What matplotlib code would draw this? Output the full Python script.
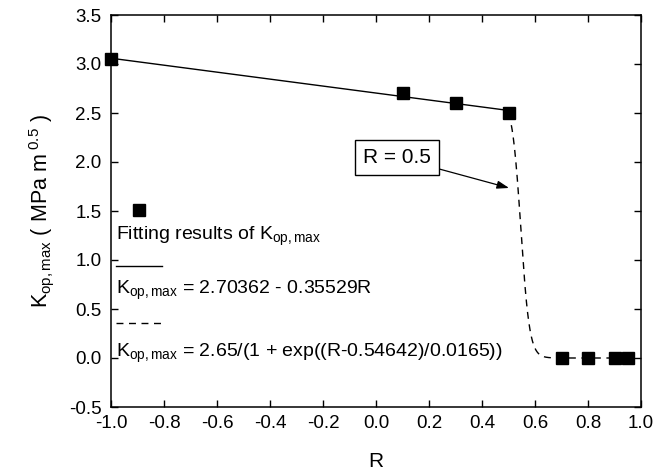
import numpy as np
import matplotlib
matplotlib.use("Agg")
import matplotlib.pyplot as plt
from matplotlib.lines import Line2D

plt.rcParams['font.family'] = ['Liberation Sans', 'DejaVu Sans']
plt.rcParams['mathtext.fontset'] = 'custom'
plt.rcParams['mathtext.rm'] = 'Liberation Sans'
plt.rcParams['mathtext.it'] = 'Liberation Sans'

R = [-1.0, 0.1, 0.3, 0.5, 0.7, 0.8, 0.9, 0.95]
K = [3.05, 2.70, 2.60, 2.50, 0.0, 0.0, 0.0, 0.0]
lin_a, lin_b = 2.70362, -0.35529
sig_A, sig_x0, sig_w = 2.65, 0.54642, 0.0165
xticks = [-1.0, -0.8, -0.6, -0.4, -0.2, 0.0, 0.2, 0.4, 0.6, 0.8, 1.0]
yticks = [-0.5, 0.0, 0.5, 1.0, 1.5, 2.0, 2.5, 3.0, 3.5]

fig = plt.figure(figsize=(6.57, 4.74), dpi=100)
ax = fig.add_axes([111/657, 1-407/474, 530/657, 392/474])

r1 = np.linspace(-1.0, 0.5, 100)
ax.plot(r1, lin_a + lin_b*r1, color='black', lw=1.0)
r2 = np.linspace(0.5, 0.95, 300)
ax.plot(r2, sig_A/(1+np.exp((r2-sig_x0)/sig_w)), color='black', lw=1.0, ls=(0, (5, 4)))
ax.plot(R, K, 's', color='black', ms=8.5, clip_on=False, zorder=5)

ax.set_xlim(-1.0, 1.0)
ax.set_ylim(-0.5, 3.5)
ax.set_xticks(xticks)
ax.set_yticks(yticks)
ax.set_xticklabels([f"{v:.1f}" for v in xticks])
ax.set_yticklabels([f"{v:.1f}" for v in yticks])
ax.tick_params(direction='in', top=True, right=True, length=5, width=1, labelsize=13.5)
ax.tick_params(axis='x', pad=6)
ax.tick_params(axis='y', pad=7)
for s in ax.spines.values():
    s.set_linewidth(1.1)

ax.set_xlabel('R', fontsize=15, labelpad=14)
ax.set_ylabel(r'K$_{\mathregular{op,max}}$ ( MPa m$^{\mathregular{\ 0.5}}$ )', fontsize=15.5, labelpad=9)

# legend-like block (Origin style)
tr = ax.transAxes
def ax_xy(px, py):
    return ((px-111)/530, (407-py)/392)

ax.add_line(Line2D([ax_xy(139, 0)[0]], [ax_xy(0, 210)[1]], marker='s', ms=8.5, color='black', transform=tr))
x0 = ax_xy(116, 0)[0]
ax.text(x0, ax_xy(0, 236)[1], r'Fitting results of K$_{\mathregular{op,max}}$', transform=tr, fontsize=14, va='center')
ax.add_line(Line2D([x0, ax_xy(162, 0)[0]], [ax_xy(0, 266)[1]]*2, color='black', lw=1.0, transform=tr))
ax.text(x0, ax_xy(0, 290)[1], r'K$_{\mathregular{op,max}}$ = 2.70362 - 0.35529R', transform=tr, fontsize=14, va='center')
ax.add_line(Line2D([x0, ax_xy(162, 0)[0]], [ax_xy(0, 323)[1]]*2, color='black', lw=1.0, ls=(0, (5, 4)), transform=tr))
ax.text(x0, ax_xy(0, 353)[1], r'K$_{\mathregular{op,max}}$ = 2.65/(1 + exp((R-0.54642)/0.0165))', transform=tr, fontsize=14, va='center')

ax.annotate('R = 0.5', xy=(0.502, 1.735), xytext=(0.079, 2.046), fontsize=15, ha='center', va='center',
            bbox=dict(boxstyle='square,pad=0.38', fc='white', ec='black', lw=1.0),
            arrowprops=dict(arrowstyle='-|>,head_length=0.6,head_width=0.2', color='black', lw=0.9,
                            mutation_scale=12, shrinkA=0, shrinkB=0))

fig.savefig('out.png', dpi=100)
